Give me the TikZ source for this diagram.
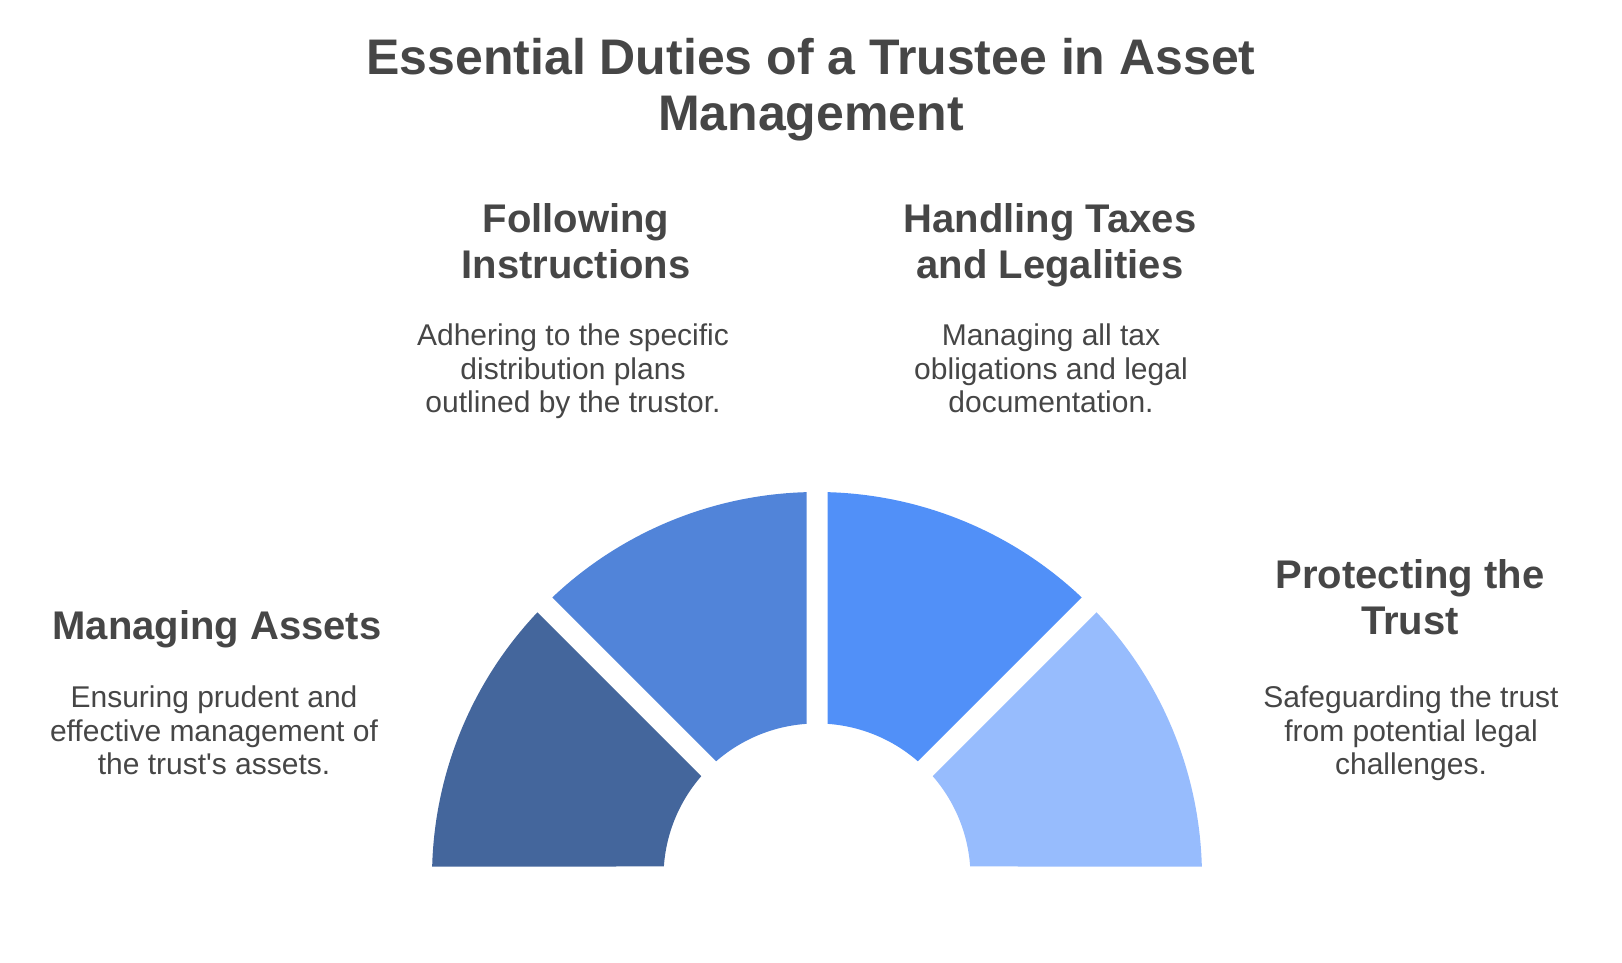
\documentclass[tikz,border=0pt]{standalone}
\usepackage{fontspec}
\setmainfont{Liberation Sans}
\usepackage{tikz}
\usetikzlibrary{calc}
\definecolor{inkgray}{HTML}{464646}
\definecolor{segone}{HTML}{44669C}
\definecolor{segtwo}{HTML}{5184D9}
\definecolor{segthree}{HTML}{5190F8}
\definecolor{segfour}{HTML}{97BCFD}
\tikzset{
  headline/.style={font=\bfseries\fontsize{25}{28}\selectfont, text=inkgray, align=center, anchor=base, inner sep=0pt},
  duty/.style={font=\bfseries\fontsize{20}{23}\selectfont, text=inkgray, align=center, anchor=base, inner sep=0pt},
  blurb/.style={font=\fontsize{15}{16.9}\selectfont, text=inkgray, align=center, anchor=base, inner sep=0pt},
}
\begin{document}
\begin{tikzpicture}[x=0.5pt, y=0.5pt]
  \useasboundingbox (0,0) rectangle (1622,963);
  \coordinate (hub) at (817,86);
  % half ring, every edge pulled back by half the gap
  \foreach \a/\b/\c in {135/180/segone, 90/135/segtwo, 45/90/segthree, 0/45/segfour}{
    \pgfmathsetmacro\oa{\a+1.563}
    \pgfmathsetmacro\ob{\b-1.563}
    \pgfmathsetmacro\ia{\a+3.922}
    \pgfmathsetmacro\ib{\b-3.922}
    \fill[fill=\c] ($(hub)+(\oa:385)$) arc[start angle=\oa, end angle=\ob, radius=385]
      -- ($(hub)+(\ib:153.5)$) arc[start angle=\ib, end angle=\ia, radius=153.5] -- cycle;
  }
  % base anchor sits on the last line
  \node[headline] (ttl) at (811,832) {Essential Duties of a Trustee in Asset\\Management};
  \node[duty] (follow) at (576,684) {Following\\Instructions};
  \node[blurb] (followtxt) at (573,550) {Adhering to the specific\\distribution plans\\outlined by the trustor.};
  \node[duty] (taxes) at (1050,684) {Handling Taxes\\and Legalities};
  \node[blurb] (taxestxt) at (1051,550) {Managing all tax\\obligations and legal\\documentation.};
  \node[duty] (assets) at (217,323) {Managing Assets};
  \node[blurb] (assetstxt) at (214,188) {Ensuring prudent and\\effective management of\\the trust\textquotesingle s assets.};
  \node[duty] (protect) at (1410,328) {Protecting the\\Trust};
  \node[blurb] (protecttxt) at (1411,188) {Safeguarding the trust\\from potential legal\\challenges.};
\end{tikzpicture}
\end{document}
